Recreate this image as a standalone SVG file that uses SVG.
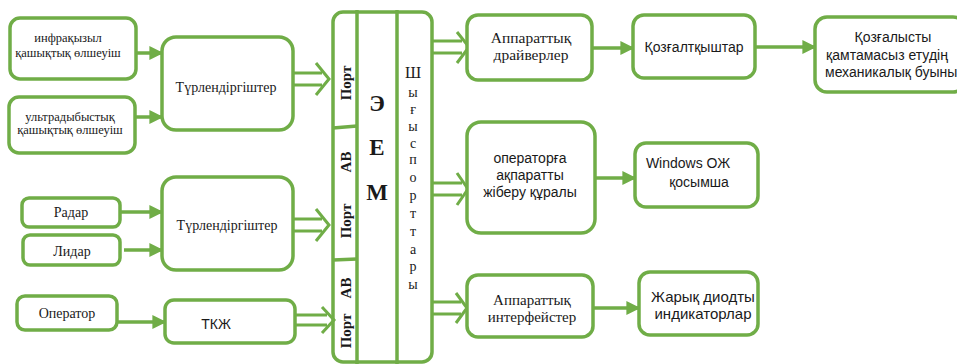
<svg xmlns="http://www.w3.org/2000/svg" width="957" height="364" viewBox="0 0 957 364">
<defs>
<marker id="ah" viewBox="0 0 10 10" refX="9" refY="5" markerWidth="4" markerHeight="4" orient="auto" markerUnits="strokeWidth">
<path d="M0,0 L10,5 L0,10 Z" fill="#70ad47"/>
</marker>
<style>
.box{fill:#fff;stroke:#70ad47;stroke-width:3.5}
.ln{fill:none;stroke:#70ad47;stroke-width:3.5}
.ar{fill:none;stroke:#70ad47;stroke-width:3.5;marker-end:url(#ah)}
.dbl{fill:none;stroke:#70ad47;stroke-width:3}
.s{font-family:"Liberation Serif","Times New Roman",serif;fill:#1a1a1a;text-anchor:middle}
.a{font-family:"Liberation Sans",Arial,sans-serif;fill:#1a1a1a;text-anchor:middle}
.st{text-anchor:start}
</style>
</defs>
<rect width="957" height="364" fill="#fff"/>

<g id="connectors">
<line class="ar" x1="136" y1="53" x2="162" y2="53"/>
<line class="ar" x1="135" y1="117" x2="162" y2="117"/>
<line class="ar" x1="120" y1="212" x2="162" y2="212"/>
<line class="ar" x1="124" y1="250" x2="162" y2="250"/>
<line class="ar" x1="117" y1="322" x2="165" y2="322"/>
<line class="ar" x1="592" y1="48" x2="633" y2="48"/>
<line class="ar" x1="755" y1="47" x2="815" y2="47"/>
<line class="ar" x1="595" y1="178" x2="635" y2="178"/>
<line class="ar" x1="593" y1="308" x2="639" y2="308"/>
<path class="dbl" d="M293,73 H322 M293,85 H322 M316,63 L329,79 L316,95"/>
<path class="dbl" d="M293,219 H322 M293,231 H322 M316,209 L329,225 L316,241"/>
<path class="dbl" d="M295,315 H327 M295,325 H327 M322,307 L334,320 L322,333"/>
<path class="dbl" d="M433,41 H462 M433,53 H462 M457,32 L469,47 L457,63"/>
<path class="dbl" d="M433,183 H462 M433,195 H462 M457,173 L468,189 L457,205"/>
<path class="dbl" d="M433,302 H461 M433,314 H461 M456,293 L467,308 L456,323"/>
</g>

<g id="infra">
<rect class="box" x="10" y="18" width="126" height="61" rx="10"/>
<text class="s" x="68" y="42" font-size="12.5">инфрақызыл</text>
<text class="s" x="68" y="57" font-size="12.5">қашықтық өлшеуіш</text>
</g>
<g id="ultra">
<rect class="box" x="9" y="97" width="126" height="56" rx="10"/>
<text class="s" x="70" y="121" font-size="12.5">ультрадыбыстық</text>
<text class="s" x="70" y="134" font-size="12.5">қашықтық өлшеуіш</text>
</g>
<g id="conv1">
<rect class="box" x="162" y="37" width="131" height="93" rx="14"/>
<text class="s" x="226" y="92" font-size="14">Түрлендіргіштер</text>
</g>
<g id="radar">
<rect class="box" x="22" y="198" width="98" height="29" rx="7"/>
<text class="s" x="71" y="217" font-size="14">Радар</text>
</g>
<g id="lidar">
<rect class="box" x="23" y="235" width="97" height="30" rx="7"/>
<text class="s" x="72" y="256" font-size="14">Лидар</text>
</g>
<g id="conv2">
<rect class="box" x="162" y="177" width="131" height="93" rx="14"/>
<text class="s" x="227" y="230" font-size="14">Түрлендіргіштер</text>
</g>
<g id="operator">
<rect class="box" x="17" y="296" width="100" height="34" rx="8"/>
<text class="s" x="67" y="318" font-size="14">Оператор</text>
</g>
<g id="tkzh">
<rect class="box" x="165" y="300" width="130" height="43" rx="9"/>
<text class="a" x="216" y="329" font-size="14">ТКЖ</text>
</g>

<g id="emm">
<rect class="ln" x="333" y="12" width="99" height="350" rx="10"/>
<line class="ln" x1="357" y1="10" x2="357" y2="364"/>
<line class="ln" x1="397" y1="10" x2="397" y2="364"/>
<line class="ln" x1="333" y1="128" x2="357" y2="126"/>
<line class="ln" x1="333" y1="260" x2="357" y2="259"/>
<text class="s" font-size="15" font-weight="bold" transform="translate(351,83) rotate(-90)">Порт</text>
<text class="s" font-size="15" font-weight="bold" transform="translate(351,221) rotate(-90)">Порт</text>
<text class="s" font-size="15" font-weight="bold" transform="translate(351,162) rotate(-90)">АВ</text>
<text class="s" font-size="15" font-weight="bold" transform="translate(351,331) rotate(-90)">Порт</text>
<text class="s" font-size="15" font-weight="bold" transform="translate(351,288) rotate(-90)">АВ</text>
<text class="s" x="377" y="111" font-size="23" font-weight="bold">Э</text>
<text class="s" x="377" y="155" font-size="23" font-weight="bold">Е</text>
<text class="s" x="377" y="200" font-size="23" font-weight="bold">М</text>
<g class="s" font-size="14">
<text x="413" y="78" font-size="16">Ш</text>
<text x="413" y="97">ы</text>
<text x="413" y="114">ғ</text>
<text x="413" y="131">ы</text>
<text x="413" y="148">с</text>
<text x="413" y="164">п</text>
<text x="413" y="182">о</text>
<text x="413" y="200">р</text>
<text x="413" y="218">т</text>
<text x="413" y="236">т</text>
<text x="413" y="254">а</text>
<text x="413" y="271">р</text>
<text x="413" y="289">ы</text>
</g>
</g>

<g id="drivers">
<rect class="box" x="467" y="15" width="125" height="65" rx="11"/>
<text class="s" x="531" y="43" font-size="15.5">Аппараттық</text>
<text class="s" x="531" y="60" font-size="15.5">драйверлер</text>
</g>
<g id="motors">
<rect class="box" x="633" y="15" width="122" height="63" rx="11"/>
<text class="a" x="694" y="52" font-size="14">Қозғалтқыштар</text>
</g>
<g id="mech">
<rect class="box" x="815" y="17" width="150" height="75" rx="12"/>
<text class="a" x="893" y="42" font-size="14">Қозғалысты</text>
<text class="a" x="887" y="60" font-size="14">қамтамасыз етудің</text>
<text class="a st" x="825" y="77" font-size="14">механикалық буыны</text>
</g>
<g id="notify">
<rect class="box" x="467" y="122" width="128" height="111" rx="14"/>
<text class="a" x="530" y="163" font-size="14">операторға</text>
<text class="a" x="530" y="180" font-size="14">ақпаратты</text>
<text class="a" x="530" y="197" font-size="14">жіберу құралы</text>
</g>
<g id="windows">
<rect class="box" x="635" y="143" width="123" height="64" rx="11"/>
<text class="a" x="688" y="168" font-size="14">Windows ОЖ</text>
<text class="a" x="699" y="187" font-size="14">қосымша</text>
</g>
<g id="interfaces">
<rect class="box" x="467" y="275" width="126" height="62" rx="11"/>
<text class="s" x="532" y="305" font-size="15">Аппараттық</text>
<text class="s" x="532" y="322" font-size="15">интерфейстер</text>
</g>
<g id="leds">
<rect class="box" x="639" y="272" width="119" height="63" rx="11"/>
<text class="a" x="703" y="302" font-size="15">Жарық диодты</text>
<text class="a" x="703" y="319" font-size="15">индикаторлар</text>
</g>
</svg>
